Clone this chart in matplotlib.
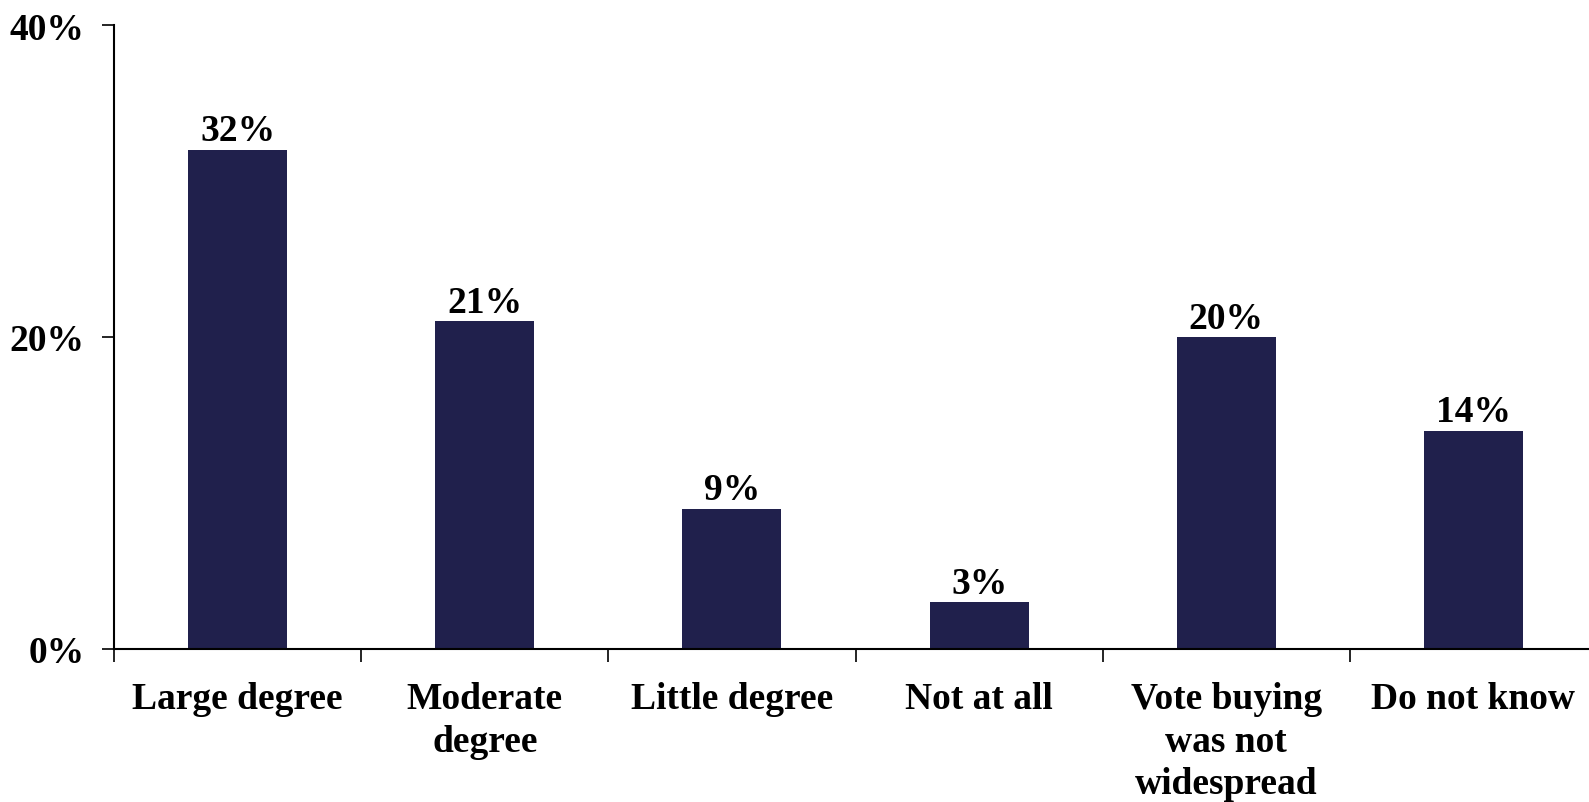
import matplotlib.pyplot as plt
import numpy as np

categories = ["Large degree", "Moderate\ndegree", "Little degree", "Not at all",
              "Vote buying\nwas not\nwidespread", "Do not know"]
values = [32, 21, 9, 3, 20, 14]
yticks = [0, 20, 40]

plt.rcParams['font.family'] = ['Liberation Serif', 'DejaVu Serif']
plt.rcParams['font.weight'] = 'bold'

fig = plt.figure(figsize=(15.89, 8.03), dpi=100)
ax = fig.add_axes([114 / 1589, 153 / 803, 1483 / 1589, 624 / 803])

x = np.arange(len(categories))
bars = ax.bar(x, values, width=0.4, color='#20204C')

# value labels above bars
for xi, v in zip(x, values):
    ax.annotate(f"{v}%", (xi, v), xytext=(0, 1), textcoords='offset points',
                ha='center', va='bottom', fontsize=27, fontweight='bold')

ax.set_xlim(-0.5, 5.5)
ax.set_ylim(0, 40)
ax.set_yticks(yticks)
ax.set_yticklabels([f"{t}%" for t in yticks], fontsize=27, fontweight='bold')

# ticks between categories, labels centered on bars
ax.set_xticks(np.arange(-0.5, 5.5, 1.0))
ax.set_xticklabels([])
ax.set_xticks(x, minor=True)
ax.set_xticklabels(categories, minor=True, fontsize=27, fontweight='bold',
                   linespacing=1.28)
ax.tick_params(axis='x', which='minor', length=0, pad=23)
ax.tick_params(axis='x', which='major', length=9, width=1.2, direction='out')
ax.tick_params(axis='y', length=9, width=1.2, direction='out', pad=12)

for side in ['top', 'right']:
    ax.spines[side].set_visible(False)
ax.spines['left'].set_linewidth(1.5)
ax.spines['bottom'].set_linewidth(1.5)

fig.savefig("out.png", dpi=100)
